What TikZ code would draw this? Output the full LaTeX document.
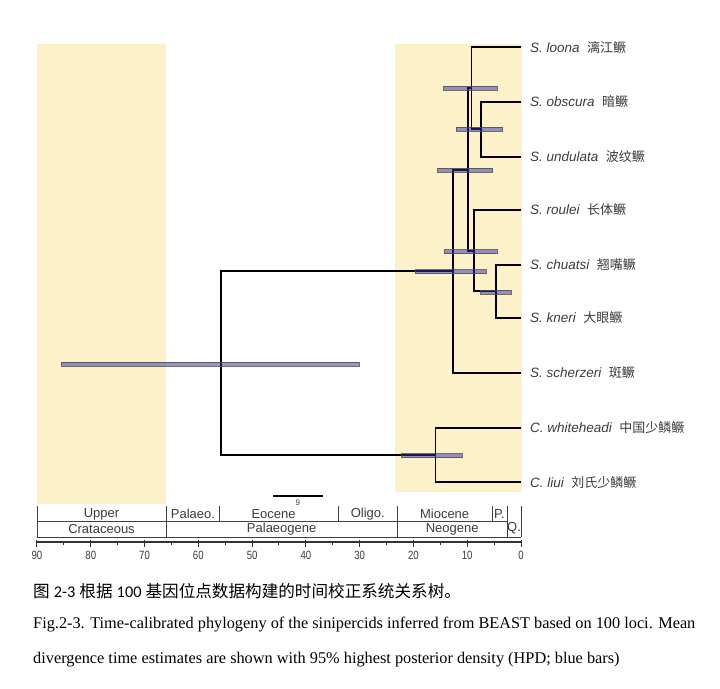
\documentclass[tikz,border=0pt]{standalone}
\usepackage{fontspec}
\setmainfont{Liberation Serif}
\newfontfamily\arialfont{Liberation Sans}
\newfontfamily\cjk{Noto Sans CJK SC}
\newfontfamily\calibrifont{Carlito}
\usetikzlibrary{positioning}

\definecolor{periodyellow}{HTML}{FDF1C9}
\definecolor{hpdblue}{RGB}{45,45,175}
\definecolor{labelgray}{HTML}{3C3C3C}

\tikzset{
  branch/.style={line width=1.8pt, black},
  hpdbar/.style={fill=hpdblue, fill opacity=0.5, draw=black!70, draw opacity=0.8, line width=0.5pt},
  taxon/.style={font=\arialfont\itshape\fontsize{13.5}{16}\selectfont, text=labelgray, inner sep=0pt, anchor=west},
  epoch/.style={font=\arialfont\fontsize{13}{15}\selectfont, text=labelgray, inner sep=0pt},
  ticklab/.style={font=\arialfont\fontsize{12}{14}\selectfont, text=labelgray, inner sep=0pt},
  gtsbox/.style={line width=0.8pt, black!75},
  caption/.style={anchor=west, inner sep=0pt, font=\fontsize{16.3}{19}\selectfont}
}
\newcommand{\cn}[1]{\hspace{0.55em}{\cjk\upshape\fontsize{13}{16}\selectfont #1}}
\newcommand{\hpd}[3]{\draw[hpdbar] (#1,#3-2) rectangle (#2,#3+2);}

\begin{document}
\begin{tikzpicture}[x=1pt, y=-1pt]
    \useasboundingbox (0,0) rectangle (720,688);
    \fill[white] (0,0) rectangle (720,688);

    % Shaded periods (Upper Cretaceous, Neogene)
    \fill[periodyellow] (37,44) rectangle (166,504);
    \fill[periodyellow] (395,44) rectangle (522,492);

    % Time axis in Ma
    \begin{scope}[shift={(521,0)}, x=-5.378pt]

        % Tips
        \coordinate (t1) at (0,47.3);
        \coordinate (t2) at (0,101.7);
        \coordinate (t3) at (0,156.7);
        \coordinate (t4) at (0,210);
        \coordinate (t5) at (0,265);
        \coordinate (t6) at (0,317.7);
        \coordinate (t7) at (0,372.7);
        \coordinate (t8) at (0,427.7);
        \coordinate (t9) at (0,482.3);

        % Internal nodes
        \coordinate (nOU) at (7.4,129.2);
        \coordinate (nLO) at (9.2,88);
        \coordinate (nCK) at (4.6,291.3);
        \coordinate (nRK) at (8.8,251.2);
        \coordinate (nC) at (9.8,169.6);
        \coordinate (nSin) at (12.7,271.3);
        \coordinate (nCor) at (15.9,455);
        \coordinate (nRoot) at (55.8,363);

        % Taxon labels
        \node[taxon, right=9pt of t1] (loona) {S. loona\cn{漓江鳜}};
        \node[taxon, right=9pt of t2] (obscura) {S. obscura\cn{暗鳜}};
        \node[taxon, right=9pt of t3] (undulata) {S. undulata\cn{波纹鳜}};
        \node[taxon, right=9pt of t4] (roulei) {S. roulei\cn{长体鳜}};
        \node[taxon, right=9pt of t5] (chuatsi) {S. chuatsi\cn{翘嘴鳜}};
        \node[taxon, right=9pt of t6] (kneri) {S. kneri\cn{大眼鳜}};
        \node[taxon, right=9pt of t7] (scherzeri) {S. scherzeri\cn{斑鳜}};
        \node[taxon, right=9pt of t8] (whiteheadi) {C. whiteheadi\cn{中国少鳞鳜}};
        \node[taxon, right=9pt of t9] (liui) {C. liui\cn{刘氏少鳞鳜}};

        % Branches
        \draw[branch] (t2) -| (nOU) |- (t3);
        \draw[branch] (t1) -| (nLO) |- (nOU);
        \draw[branch] (t5) -| (nCK) |- (t6);
        \draw[branch] (t4) -| (nRK) |- (nCK);
        \draw[branch] (nLO) -| (nC) |- (nRK);
        \draw[branch] (nC) -| (nSin) |- (t7);
        \draw[branch] (t8) -| (nCor) |- (t9);
        \draw[branch] (nSin) -| (nRoot) |- (nCor);

        % 95% HPD bars
        \hpd{14.4}{4.5}{88}
        \hpd{12.0}{3.4}{129.3}
        \hpd{15.5}{5.3}{170}
        \hpd{14.3}{4.5}{251.7}
        \hpd{19.7}{6.5}{271.7}
        \hpd{7.5}{1.9}{292.3}
        \hpd{85.5}{30.1}{364}
        \hpd{22.2}{10.9}{455.7}

        % Scale bar
        \coordinate (sbL) at (46.1,496);
        \coordinate (sbR) at (36.8,496);
        \draw[line width=1.6pt] (sbL) -- (sbR);
        \node[font=\arialfont\fontsize{8}{9}\selectfont, text=labelgray, inner sep=0pt] (sblab) at (41.5,503) {9};

        % Geological time scale
        \foreach \b in {90,66,56,33.9,23,5.33,2.58,0}
            \draw[gtsbox] (\b,506) -- (\b,521.5);
        \foreach \b in {90,66,23,2.58,0}
            \draw[gtsbox] (\b,521.5) -- (\b,537);
        \draw[gtsbox] (90,521.5) -- (2.58,521.5);
        \draw[gtsbox] (90,537) -- (0,537);

        \node[epoch] (upper) at (78,514) {Upper};
        \node[epoch] (palaeo) at (61,514) {Palaeo.};
        \node[epoch] (eocene) at (46,514) {Eocene};
        \node[epoch] (oligo) at (28.5,514) {Oligo.};
        \node[epoch] (miocene) at (14.2,514) {Miocene};
        \node[epoch] (plio) at (4,514) {P.};
        \node[epoch] (quat) at (1.3,528) {Q.};
        \node[epoch] (cret) at (78,529) {Crataceous};
        \node[epoch] (paleog) at (44.5,529) {Palaeogene};
        \node[epoch] (neog) at (12.8,529) {Neogene};

        % Axis
        \draw[line width=1.4pt, black!80] (90,542) -- (0,542);
        \foreach \t in {0,10,...,90} {
            \draw[line width=1pt, black!80] (\t,539.5) -- (\t,547);
            \node[ticklab] (tick\t) at (\t,555) {\scalebox{0.8}[1]{\t}};
        }
        \foreach \t in {5,15,...,85}
            \draw[line width=1pt, black!80] (\t,542) -- (\t,545);

    \end{scope}

    % Caption
    \node[caption] (capcn) at (33,591) {{\cjk\fontsize{16.6}{19}\selectfont 图}\ {\calibrifont 2-3}\ {\cjk\fontsize{16.6}{19}\selectfont 根据}\ {\calibrifont 100}\ {\cjk\fontsize{16.6}{19}\selectfont 基因位点数据构建的时间校正系统关系树。}};
    \node[caption] (capen1) at (33,625) {Fig.2-3. Time-calibrated phylogeny of the sinipercids inferred from BEAST based on 100 loci. Mean};
    \node[caption] (capen2) at (33,660) {divergence time estimates are shown with 95\% highest posterior density (HPD; blue bars)};

\end{tikzpicture}
\end{document}
